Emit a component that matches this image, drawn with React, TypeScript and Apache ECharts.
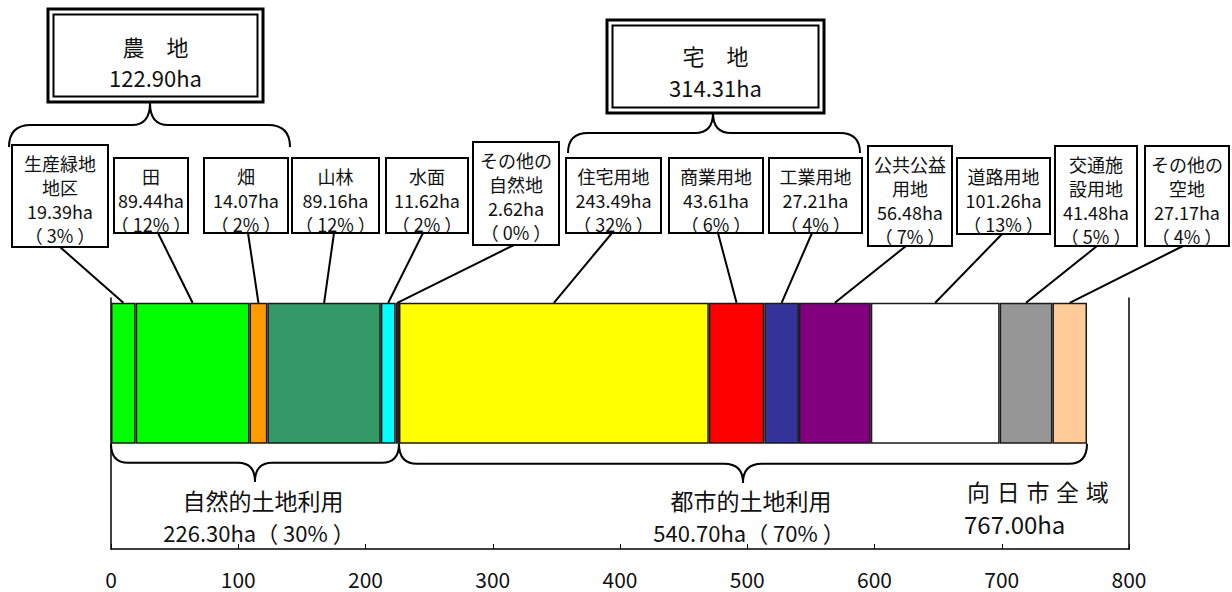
import React, { useEffect, useRef } from 'react';
import * as echarts from 'echarts';

// ---------- data ----------
const categories = ['生産緑地地区', '田', '畑', '山林', '水面', 'その他の自然地', '住宅用地', '商業用地', '工業用地', '公共公益用地', '道路用地', '交通施設用地', 'その他の空地'];
const boxNames = ['生産緑地\n地区', '田', '畑', '山林', '水面', 'その他の\n自然地', '住宅用地', '商業用地', '工業用地', '公共公益\n用地', '道路用地', '交通施\n設用地', 'その他の\n空地'];
const areas = [19.39, 89.44, 14.07, 89.16, 11.62, 2.62, 243.49, 43.61, 27.21, 56.48, 101.26, 41.48, 27.17];
const shares = [3, 12, 2, 12, 2, 0, 32, 6, 4, 7, 13, 5, 4];
const colors = ['#00ff00', '#00ff00', '#ff9900', '#339966', '#00ffff', '#993300', '#ffff00', '#ff0000', '#333399', '#800080', '#ffffff', '#969696', '#ffcc99'];

const farmTotal = '122.90';
const residentialTotal = '314.31';
const naturalTotal = 226.30;
const urbanTotal = 540.70;
const naturalShare = 30;
const urbanShare = 70;
const cityTotal = '767.00';

const axisMin = 0;
const axisMax = 800;
const axisInterval = 100;

// ---------- layout (pixels) ----------
// [x0, y0, x1, y1]
const boxRects = [
  [12, 145, 108, 247],
  [114, 158, 188, 233],
  [204, 158, 288, 233],
  [292, 158, 379, 233],
  [386, 158, 468, 233],
  [473, 142, 559, 245],
  [566, 158, 661, 233],
  [669, 158, 763, 233],
  [769, 158, 862, 233],
  [868, 146, 952, 246],
  [957, 158, 1050, 234],
  [1055, 146, 1137, 246],
  [1145, 146, 1229, 246],
];
const leaderStartX = [60, 158, 248, 334, 423, 514, 612, 718, 812, 906, 1002, 1097, 1183];

const FONT = "'Noto Sans CJK JP', 'Noto Sans', sans-serif";

function txt(text: string, x: number, y: number, size: number, align = 'center') {
  return {
    type: 'text',
    x,
    y,
    z: 20,
    style: {
      text,
      fill: '#111',
      fontSize: size,
      fontFamily: FONT,
      align,
      verticalAlign: 'middle',
      textAlign: align,
      textVerticalAlign: 'middle',
    },
  };
}

function brace(x1: number, x2: number, xm: number, yEnd: number, yMid: number, yTip: number, rEnd: number, rTip: number) {
  const st = { stroke: '#000', lineWidth: 2, fill: 'none' };
  return [
    { type: 'bezierCurve', z: 5, shape: { x1, y1: yEnd, cpx1: x1, cpy1: yMid, x2: x1 + rEnd, y2: yMid }, style: st },
    { type: 'line', z: 5, shape: { x1: x1 + rEnd, y1: yMid, x2: xm - rTip, y2: yMid }, style: st },
    { type: 'bezierCurve', z: 5, shape: { x1: xm - rTip, y1: yMid, cpx1: xm, cpy1: yMid, x2: xm, y2: yTip }, style: st },
    { type: 'bezierCurve', z: 5, shape: { x1: xm, y1: yTip, cpx1: xm, cpy1: yMid, x2: xm + rTip, y2: yMid }, style: st },
    { type: 'line', z: 5, shape: { x1: xm + rTip, y1: yMid, x2: x2 - rEnd, y2: yMid }, style: st },
    { type: 'bezierCurve', z: 5, shape: { x1: x2 - rEnd, y1: yMid, cpx1: x2, cpy1: yMid, x2, y2: yEnd }, style: st },
  ];
}

function doubleBox(x0: number, y0: number, x1: number, y1: number) {
  return [
    { type: 'rect', z: 10, shape: { x: x0, y: y0, width: x1 - x0, height: y1 - y0 }, style: { fill: '#fff', stroke: '#000', lineWidth: 3 } },
    { type: 'rect', z: 11, shape: { x: x0 + 5.5, y: y0 + 5.5, width: x1 - x0 - 11, height: y1 - y0 - 11 }, style: { fill: 'none', stroke: '#000', lineWidth: 2 } },
  ];
}

export default function App() {
  const ref = useRef<HTMLDivElement>(null);

  useEffect(() => {
    const chart = echarts.init(ref.current as HTMLDivElement, null, { renderer: 'svg' });
    const slots = ['', '', '', '', ''];
    const barSlot = 3;

    chart.setOption({
      animation: false,
      backgroundColor: '#fff',
      grid: { left: 111, right: 103, top: 298, bottom: 43 },
      xAxis: {
        type: 'value',
        min: axisMin,
        max: axisMax,
        interval: axisInterval,
        axisLine: { show: true, onZero: false, lineStyle: { color: '#000', width: 1.5 } },
        axisTick: { show: true, inside: true, length: 5, lineStyle: { color: '#000', width: 1 } },
        axisLabel: { color: '#111', fontSize: 21, fontFamily: FONT, margin: 19 },
        splitLine: { show: false },
      },
      yAxis: [
        {
          type: 'category',
          data: slots,
          axisLine: { show: true, onZero: false, lineStyle: { color: '#000', width: 1.5 } },
          axisTick: { show: false },
          axisLabel: { show: false },
        },
        {
          type: 'category',
          position: 'right',
          data: slots,
          axisLine: { show: true, onZero: false, lineStyle: { color: '#000', width: 1.5 } },
          axisTick: { show: false },
          axisLabel: { show: false },
        },
      ],
      series: categories.map((name, i) => ({
        name,
        type: 'bar',
        stack: 'total',
        yAxisIndex: 0,
        barWidth: 141,
        data: slots.map((_, k) => (k === barSlot ? areas[i] : '-')),
        itemStyle: { color: colors[i], borderColor: '#1a1a1a', borderWidth: 1.5 },
      })),
    });

    const px = (v: number) => chart.convertToPixel({ xAxisIndex: 0 }, v) as number;
    const yc = chart.convertToPixel({ yAxisIndex: 0 }, barSlot) as number;
    const barTop = yc - 70.5;
    const barBottom = yc + 70.5;

    const els: any[] = [];

    // top braces
    els.push(...brace(9, 290, 150, 147, 125, 103, 22, 18));
    els.push(...brace(568, 860, 713, 153, 133, 113, 20, 18));

    // bottom braces (from data)
    const xs = px(0);
    const xn = px(naturalTotal);
    const xu = px(naturalTotal + urbanTotal);
    els.push(...brace(xs, xn, (xs + xn) / 2, barBottom, barBottom + 19, barBottom + 38, 17, 17));
    els.push(...brace(xn, xu, (xn + xu) / 2, barBottom, barBottom + 20, barBottom + 39, 18, 19));

    // leader lines
    let cum = 0;
    areas.forEach((a, i) => {
      const cx = px(cum + a / 2);
      cum += a;
      const r = boxRects[i];
      els.push({ type: 'line', z: 6, shape: { x1: leaderStartX[i], y1: r[3], x2: cx, y2: barTop }, style: { stroke: '#000', lineWidth: 2 } });
    });

    // small boxes
    boxNames.forEach((nm, i) => {
      const [x0, y0, x1, y1] = boxRects[i];
      els.push({ type: 'rect', z: 10, shape: { x: x0, y: y0, width: x1 - x0, height: y1 - y0 }, style: { fill: '#fff', stroke: '#000', lineWidth: 2 } });
      const lines = [...nm.split('\n'), `${areas[i].toFixed(2)}ha`, `（ ${shares[i]}% ）`];
      const cx = (x0 + x1) / 2;
      lines.forEach((ln, k) => {
        els.push(txt(ln, cx, y0 + 17.5 + k * 24, 18));
      });
    });

    // group boxes
    els.push(...doubleBox(48, 9, 263, 102));
    els.push(txt('農　地', 155.5, 46, 22));
    els.push(txt(`${farmTotal}ha`, 155.5, 77, 22));
    els.push(...doubleBox(607, 20, 824, 113));
    els.push(txt('宅　地', 715.5, 55, 22));
    els.push(txt(`${residentialTotal}ha`, 715.5, 87, 22));

    // bottom labels
    els.push(txt('自然的土地利用', 263, 500, 23));
    els.push(txt(`${naturalTotal.toFixed(2)}ha（ ${naturalShare}% ）`, 259, 532, 22));
    els.push(txt('都市的土地利用', 751, 500, 23));
    els.push(txt(`${urbanTotal.toFixed(2)}ha（ ${urbanShare}% ）`, 749, 532, 22));
    '向日市全域'.split('').forEach((ch, k) => {
      els.push(txt(ch, 978.5 + k * 29.7, 491, 23));
    });
    els.push(txt(`${cityTotal}ha`, 964, 523, 24, 'left'));

    chart.setOption({ graphic: { elements: els } });

    return () => chart.dispose();
  }, []);

  return <div ref={ref} style={{ position: 'fixed', left: 0, top: 0, width: 1232, height: 592 }} />;
}
